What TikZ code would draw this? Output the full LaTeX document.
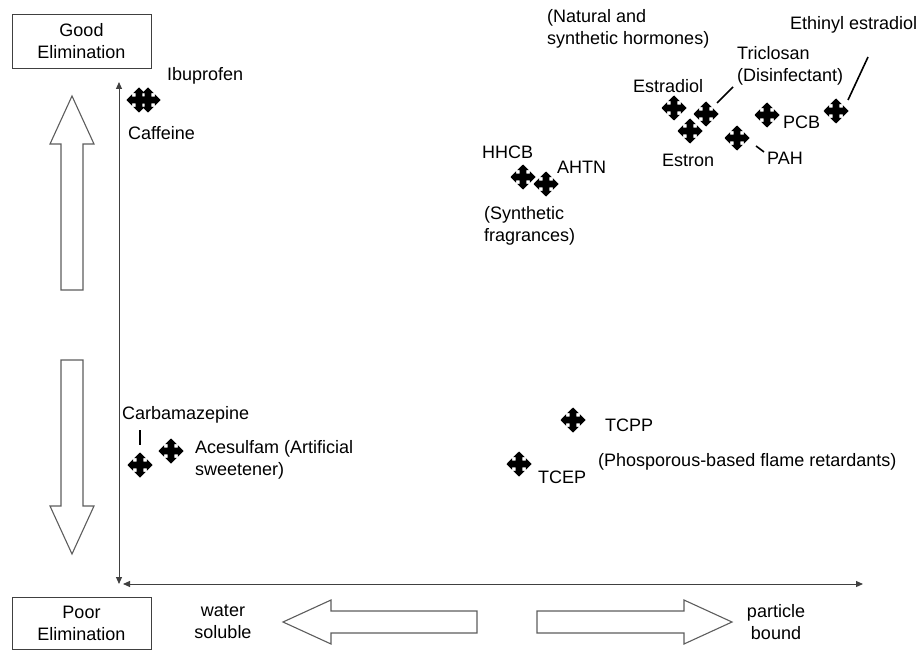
\documentclass[tikz,border=0pt]{standalone}
\usepackage{fontspec}
\setmainfont{Liberation Sans}
\usetikzlibrary{arrows.meta}
\definecolor{ln}{HTML}{404040}
\tikzset{
  lbl/.style={inner sep=0pt, font=\fontsize{18}{22}\selectfont, text=black},
  lblw/.style={lbl, anchor=west, align=left},
  blockarrow/.style={draw=ln!85, line width=1.1pt, fill=white, line join=miter},
  axis/.style={draw=ln, line width=1pt, {Triangle[length=7pt,width=6pt]}-{Triangle[length=7pt,width=6pt]}},
  leader/.style={draw=black, line width=1.6pt},
  marker/.pic={
    \fill[black] (0,-12.5) -- (5.8,-6.8) -- (3.3,-6.8) -- (3.3,-3.3) -- (6.8,-3.3) -- (6.8,-5.8)
      -- (12.5,0) -- (6.8,5.8) -- (6.8,3.3) -- (3.3,3.3) -- (3.3,6.8) -- (5.8,6.8)
      -- (0,12.5) -- (-5.8,6.8) -- (-3.3,6.8) -- (-3.3,3.3) -- (-6.8,3.3) -- (-6.8,5.8)
      -- (-12.5,0) -- (-6.8,-5.8) -- (-6.8,-3.3) -- (-3.3,-3.3) -- (-3.3,-6.8) -- (-5.8,-6.8) -- cycle;
  }
}
\begin{document}
\begin{tikzpicture}[x=1pt,y=-1pt]
\useasboundingbox (0,0) rectangle (920,650);
% boxes
\draw[draw=ln, line width=0.9pt] (12,14) rectangle (151,68);
\node[lbl, align=center] (good) at (81.5,41) {Good\\Elimination};
\draw[draw=ln, line width=0.9pt] (12,597) rectangle (151,649);
\node[lbl, align=center] (poor) at (81.5,623) {Poor\\Elimination};
% axes
\coordinate (ytop) at (119,82);
\coordinate (origin) at (119,584);
\coordinate (xleft) at (123,584);
\coordinate (xright) at (863,584);
\draw[axis] (ytop) -- (origin);
\draw[axis] (xleft) -- (xright);
% block arrows
\draw[blockarrow] (72,96) -- (94,144) -- (83,144) -- (83,290) -- (61,290) -- (61,144) -- (50,144) -- cycle;
\draw[blockarrow] (72,554) -- (94,506) -- (83,506) -- (83,360) -- (61,360) -- (61,506) -- (50,506) -- cycle;
\draw[blockarrow] (283,622) -- (331,600) -- (331,611) -- (477,611) -- (477,633) -- (331,633) -- (331,644) -- cycle;
\draw[blockarrow] (732,622) -- (684,600) -- (684,611) -- (537,611) -- (537,633) -- (684,633) -- (684,644) -- cycle;
\node[lbl, align=center] (water) at (223,622) {water\\soluble};
\node[lbl, align=center] (particle) at (776,622) {particle\\bound};
% markers
\pic at (139,100) {marker};
\pic at (148,100) {marker};
\node[lblw] (ibu) at (167,76) {Ibuprofen};
\node[lblw] (caf) at (128,133) {Caffeine};
% hormones group
\node[lblw] (hormones) at (547,29) {(Natural and\\synthetic hormones)};
\node[lblw] (ethinyl) at (790,25) {Ethinyl estradiol};
\node[lblw] (triclosan) at (737,66) {Triclosan\\(Disinfectant)};
\node[lblw] (estradiol) at (633,86) {Estradiol};
\node[lblw] (estron) at (662,160) {Estron};
\node[lblw] (pah) at (767,158) {PAH};
\node[lblw] (pcb) at (783,122) {PCB};
\pic at (674,108) {marker};
\pic at (706,114) {marker};
\pic at (690,131) {marker};
\pic at (737,138) {marker};
\pic at (767,115) {marker};
\pic at (836,111) {marker};
\coordinate (tl1) at (717,103); \coordinate (tl2) at (733,87);
\draw[leader] (tl1) -- (tl2);
\coordinate (el1) at (848,100); \coordinate (el2) at (868,57);
\draw[leader] (el1) -- (el2);
\coordinate (pl1) at (756,146); \coordinate (pl2) at (764,152);
\draw[leader] (pl1) -- (pl2);
% fragrances
\node[lblw] (hhcb) at (482,152) {HHCB};
\node[lblw] (ahtn) at (557,167) {AHTN};
\pic at (523,177) {marker};
\pic at (546,184) {marker};
\node[lblw] (frag) at (484,226) {(Synthetic\\fragrances)};
% carbamazepine, acesulfam
\node[lblw] (carba) at (122,415) {Carbamazepine};
\coordinate (cl1) at (140,430); \coordinate (cl2) at (140,445);
\draw[leader] (cl1) -- (cl2);
\pic at (140,465) {marker};
\pic at (171,451) {marker};
\node[lblw] (acesulfam) at (195,460) {Acesulfam (Artificial\\sweetener)};
% flame retardants
\pic at (573,420) {marker};
\node[lblw] (tcpp) at (605,425) {TCPP};
\node[lblw] (phos) at (598,462) {(Phosporous-based flame retardants)};
\pic at (519,464) {marker};
\node[lblw] (tcep) at (538,477) {TCEP};
\end{tikzpicture}
\end{document}
